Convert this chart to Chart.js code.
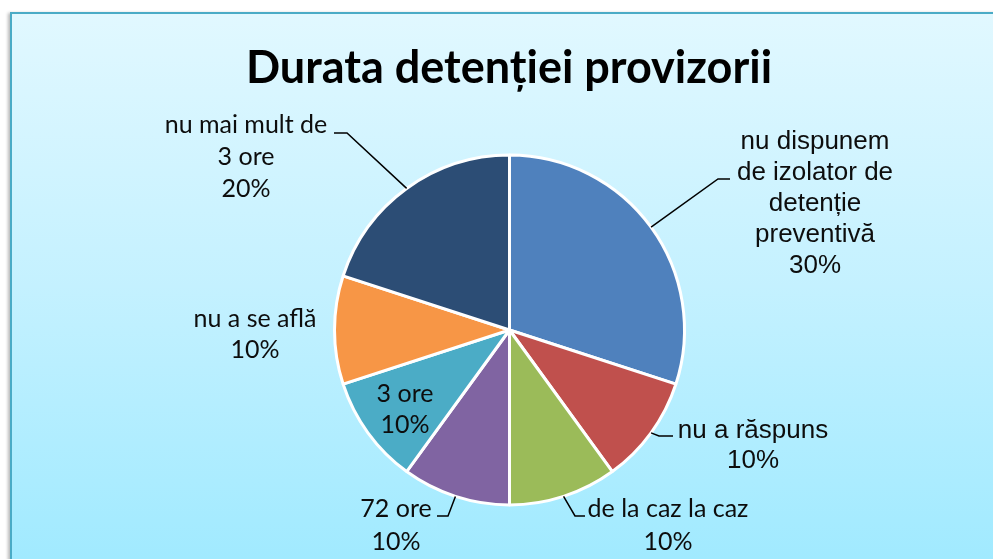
<!DOCTYPE html>
<html>
<head>
<meta charset="utf-8">
<script src="https://cdn.jsdelivr.net/npm/chart.js@4.4.1/dist/chart.umd.min.js"></script>
<style>
html,body{margin:0;padding:0;background:#ffffff;width:993px;height:559px;overflow:hidden}
#frame{position:absolute;left:10px;top:12px;width:1000px;height:545px;border:2px solid #4aabc6;
  background:linear-gradient(to bottom,#e1f8ff 0%,#c4f1ff 50%,#a1eaff 100%);
  box-shadow:-2px 1px 3px rgba(0,0,0,0.28)}
#wrap{position:absolute;left:0;top:0;width:993px;height:559px}
</style>
</head>
<body>
<div id="frame"></div>
<div id="wrap"><canvas id="c" width="993" height="559"></canvas></div>
<script>
// ---- data ----
const chartTitle = "Durata detenției provizorii";
const categories = [
  ["nu dispunem", "de izolator de", "detenție", "preventivă"],
  ["nu a răspuns"],
  ["de la caz la caz"],
  ["72 ore"],
  ["3 ore"],
  ["nu a se află"],
  ["nu mai mult de", "3 ore"]
];
const values = [30, 10, 10, 10, 10, 10, 20];
const colors = ["#4f81bd", "#c0504d", "#9bbb59", "#8064a2", "#4bacc6", "#f79646", "#2c4d75"];

// ---- label layout (positions/styles only) ----
const ARIAL = '"Liberation Sans", Arial, sans-serif';
const CALI = 'Lato, "Open Sans", sans-serif';
const labelLayout = [
  {x: 815, y: 149, lh: 31, font: '26px ' + ARIAL, leader: [[718, 179], [730, 179]]},
  {x: 753, y: 438, lh: 30, font: '26px ' + ARIAL, leader: [[659, 436], [673, 436]]},
  {x: 668, y: 517, lh: 33, font: '25px ' + CALI, leader: [[575, 516], [585, 516]]},
  {x: 396, y: 517, lh: 33, font: '25px ' + CALI, leader: [[448, 516], [437, 516]]},
  {x: 405, y: 402, lh: 31, font: '25px ' + CALI, leader: null},
  {x: 255, y: 327, lh: 31, font: '25px ' + CALI, leader: null},
  {x: 246, y: 133, lh: 32, font: '25px ' + CALI, leader: [[347, 133], [334, 133]]}
];

const labelPlugin = {
  id: 'sliceLabels',
  afterDatasetsDraw(chart) {
    const ctx = chart.ctx;
    const meta = chart.getDatasetMeta(0);
    const total = values.reduce((a, b) => a + b, 0);
    ctx.save();
    // title
    ctx.fillStyle = '#000';
    ctx.font = 'bold 45px Lato, "Open Sans", sans-serif';
    ctx.textAlign = 'center';
    ctx.textBaseline = 'alphabetic';
    ctx.fillText(chartTitle, 509, 83);
    meta.data.forEach((arc, i) => {
      const L = labelLayout[i];
      const p = arc.getProps(['x', 'y', 'startAngle', 'endAngle', 'outerRadius'], true);
      const mid = (p.startAngle + p.endAngle) / 2;
      if (L.leader) {
        ctx.beginPath();
        ctx.strokeStyle = '#000';
        ctx.lineWidth = 1.5;
        ctx.moveTo(p.x + Math.cos(mid) * p.outerRadius, p.y + Math.sin(mid) * p.outerRadius);
        L.leader.forEach(pt => ctx.lineTo(pt[0], pt[1]));
        ctx.stroke();
      }
      const lines = categories[i].concat([Math.round(values[i] / total * 100) + '%']);
      ctx.font = L.font;
      ctx.fillStyle = '#0d0d0d';
      ctx.textAlign = 'center';
      ctx.textBaseline = 'alphabetic';
      lines.forEach((t, k) => ctx.fillText(t, L.x, L.y + k * L.lh));
    });
    ctx.restore();
  }
};

new Chart(document.getElementById('c'), {
  type: 'pie',
  data: {
    labels: categories.map(c => c.join(' ')),
    datasets: [{
      data: values,
      backgroundColor: colors,
      borderColor: '#ffffff',
      borderWidth: 3,
      hoverOffset: 0,
      radius: 175
    }]
  },
  options: {
    responsive: false,
    animation: false,
    events: [],
    layout: {padding: {left: 300, right: 274, top: 200, bottom: 99}},
    plugins: {legend: {display: false}, title: {display: false}, tooltip: {enabled: false}}
  },
  plugins: [labelPlugin]
});
</script>
</body>
</html>
